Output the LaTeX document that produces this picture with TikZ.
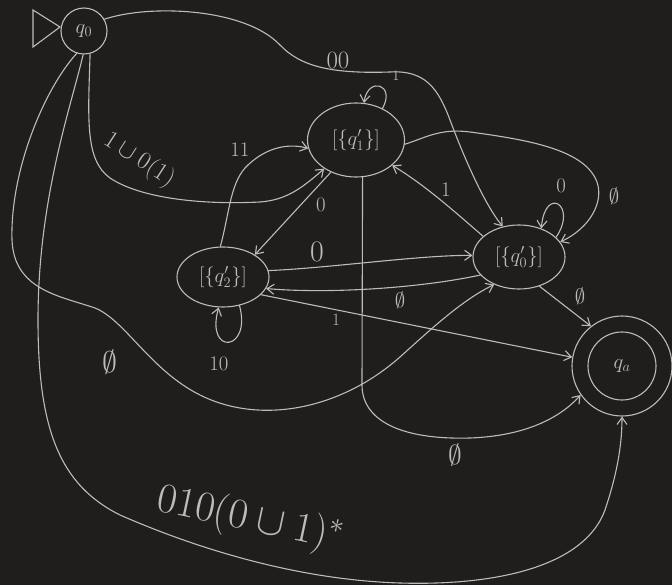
\documentclass[tikz,border=0pt]{standalone}
\usepackage{amsmath,amssymb}
\usetikzlibrary{arrows.meta,shapes.geometric}
\definecolor{board}{RGB}{31,30,29}
\definecolor{chalk}{RGB}{188,188,186}
\tikzset{>={Straight Barb[length=7pt,width=10pt]},every node/.style={font=\fontsize{22}{26}\selectfont,text=chalk},
  flow/.style={draw=chalk,line width=1.1pt,line cap=round,->},edge/.style={draw=chalk,line width=1.1pt,line cap=round},
  set/.style={ellipse,draw=chalk,line width=1.1pt,inner sep=0pt},ring/.style={circle,draw=chalk,line width=1.1pt,inner sep=0pt}}

\begin{document}
\begin{tikzpicture}[x=1pt,y=-1pt]
\useasboundingbox (0,0) rectangle (672,585);\fill[board] (0,0) rectangle (672,585);
% states
\node[ring,minimum size=46pt] (q0) at (84,31) {$q_0$};\draw[edge] (33,10)--(60,27)--(33,47)--cycle;
\node[set,minimum width=97pt,minimum height=74pt] (qt) at (356,140) {$[\{q_1'\}]$};
\node[set,minimum width=92pt,minimum height=60pt] (ql) at (223,277) {$[\{q_2'\}]$};
\node[set,minimum width=92pt,minimum height=64pt] (qr) at (519,257) {$[\{q_0'\}]$};
\node[ring,minimum size=100pt] (qa) at (622,366) {};\node[ring,minimum size=68pt] (qf) at (qa) {$q_a$};
% from q0
\draw[flow] (q0.30) .. controls (150,4) and (245,8) .. (280,45) .. controls (300,66) and (330,74) .. (390,72) .. controls (425,70) and (438,88) .. (450,120) .. controls (465,160) and (485,205) .. (qr.118);
\node[font=\fontsize{25}{28}\selectfont] (w1) at (338,60) {$00$};
\draw[flow] (q0.285) .. controls (88,120) and (85,160) .. (110,178) .. controls (140,198) and (200,205) .. (260,202) .. controls (285,200) and (300,190) .. (qt.222);
\node[rotate=-33,font=\fontsize{25}{28}\selectfont] (w2) at (139,160) {$1\cup0(1)$};
\draw[flow] (q0.268) .. controls (70,110) and (38,200) .. (38,320) .. controls (38,430) and (60,485) .. (120,515) .. controls (200,550) and (300,580) .. (400,583) .. controls (500,586) and (585,565) .. (605,510) .. controls (615,480) and (622,450) .. (qa.270);
\node[rotate=-12,scale=1.7,font=\fontsize{25}{28}\selectfont] (w13) at (250,520) {$010(0\cup1)^{*}$};
\draw[flow] (q0.252) .. controls (45,88) and (10,170) .. (12,240) .. controls (14,290) and (60,296) .. (95,308) .. controls (125,320) and (150,370) .. (200,395) .. controls (260,425) and (340,410) .. (400,357) .. controls (430,330) and (462,300) .. (qr.228);
\node[scale=1.2,font=\fontsize{25}{28}\selectfont] (w14) at (110,362) {$\emptyset$};
% between the sets
\draw[flow] (qt.50) .. controls (396,84) and (368,76) .. (qt.78);\node[font=\fontsize{15}{16}\selectfont] (w15) at (396,76) {$1$};
\draw[flow] (ql.95) .. controls (229,215) and (230,185) .. (245,168) .. controls (262,150) and (285,142) .. (qt.190);\node (w3) at (240,150) {$11$};
\draw[flow] (qt.232) -- (ql.35);\node (w4) at (321,205) {$0$};
\draw[flow] (ql.8) .. controls (330,268) and (420,255) .. (qr.178);\node[scale=1.2,font=\fontsize{25}{28}\selectfont] (w5) at (317,252) {$0$};
\draw[flow] (qr.205) .. controls (420,288) and (330,294) .. (ql.345);\node (w6) at (400,300) {$\emptyset$};
\draw[flow] (ql.300) .. controls (252,352) and (205,356) .. (ql.262);\node (w16) at (219,364) {$10$};
\draw[flow] (qr.150) .. controls (455,212) and (425,185) .. (qt.325);\node (w8) at (446,190) {$1$};
\draw[flow] (qt.355) .. controls (425,138) and (440,128) .. (470,132) .. controls (530,140) and (585,150) .. (597,182) .. controls (604,202) and (590,228) .. (qr.20);
\node (w9) at (614,196) {$\emptyset$};
\draw[flow] (qr.28) .. controls (578,205) and (545,185) .. (qr.52);\node (w10) at (561,186) {$0$};
% into q_a
\draw[flow] (ql.335) -- (qa.170);\node[font=\fontsize{18}{20}\selectfont] (w7) at (336,320) {$1$};
\draw[flow] (qr.305) -- (qa.128);\node (w11) at (580,296) {$\emptyset$};
\draw[flow] (qt.280) -- (362,385) .. controls (362,420) and (400,440) .. (470,438) .. controls (525,436) and (560,418) .. (qa.215);
\node[scale=1.1,font=\fontsize{25}{28}\selectfont] (w12) at (455,455) {$\emptyset$};
\end{tikzpicture}
\end{document}
